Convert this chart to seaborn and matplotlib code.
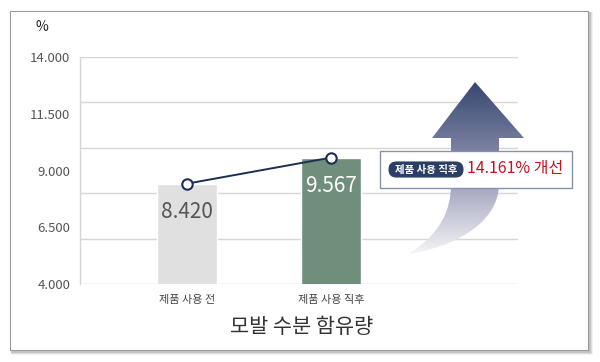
import numpy as np
import matplotlib
matplotlib.use("Agg")
import matplotlib.pyplot as plt
import seaborn as sns
import pandas as pd
from matplotlib.patches import Rectangle, FancyBboxPatch, PathPatch
from matplotlib.path import Path

categories = ["제품 사용 전", "제품 사용 직후"]
values = [8420, 9567]
value_labels = ["8.420", "9.567"]
ytick_values = [4000, 6500, 9000, 11500, 14000]
ytick_labels = ["4.000", "6.500", "9.000", "11.500", "14.000"]
grid_values = [4000, 6000, 8000, 10000, 12000, 14000]
unit_label = "%"
title = "모발 수분 함유량"
badge_text = "제품 사용 직후"
improve_text = "14.161% 개선"

sns.set_theme(style="white")
plt.rcParams['font.family'] = ['Noto Sans CJK KR', 'DejaVu Sans']

W, H = 600, 362
fig = plt.figure(figsize=(6, 3.62), dpi=100)
fig.patch.set_facecolor("white")

# background card axes (pixel coords)
bg = fig.add_axes([0, 0, 1, 1], zorder=-1)
bg.set_xlim(0, W); bg.set_ylim(H, 0); bg.axis("off")
for i, a in enumerate([0.05, 0.08, 0.12, 0.18]):
    off = 4 - i
    bg.add_patch(Rectangle((10 + off * 0.3, 11 + off * 0.3), 578 + off, 339 + off,
                           facecolor="#000000", alpha=a, edgecolor="none"))
bg.add_patch(Rectangle((10, 11), 578, 339, facecolor="white", edgecolor="#9a9a9a", lw=0.8))

# main axes
ax = fig.add_axes([80 / W, 1 - 284 / H, 438 / W, 227 / H], zorder=0)
ax.patch.set_alpha(0)
df = pd.DataFrame({"cat": categories, "val": values})
sns.barplot(data=df, x="cat", y="val", hue="cat", palette=["#e0e0e0", "#6f8f7c"],
            width=0.42, ax=ax, legend=False, saturation=1)
ax.set_xlim(-0.743, 2.30)
ax.set_ylim(4000, 14000)
for g in grid_values:
    ax.axhline(g, color="#d6d6d6", lw=1.0, zorder=0)
ax.set_yticks(ytick_values)
ax.set_yticklabels(ytick_labels, fontsize=9.5, color="#555555")
ax.tick_params(axis="y", length=0, pad=7)
ax.tick_params(axis="x", length=0, pad=8)
ax.set_xticks(range(len(categories)))
ax.set_xticklabels(categories, fontsize=8, color="#444444")
ax.set_xlabel(""); ax.set_ylabel("")
for s in ["top", "right", "bottom"]:
    ax.spines[s].set_visible(False)
ax.spines["left"].set_color("#d6d6d6")
ax.spines["left"].set_linewidth(1.0)

ax.plot(range(len(values)), values, color="#1c2e52", lw=1.4, marker="o",
        markersize=7.5, markerfacecolor="white", markeredgecolor="#1c2e52",
        markeredgewidth=1.5, zorder=5)

txt_colors = ["#555555", "white"]
for i, (v, lab) in enumerate(zip(values, value_labels)):
    ax.text(i, v - 1250, lab, ha="center", va="center", fontsize=15,
            color=txt_colors[i], zorder=6)

# overlay axes (pixel coords)
ov = fig.add_axes([0, 0, 1, 1], zorder=2)
ov.set_xlim(0, W); ov.set_ylim(H, 0); ov.axis("off")
ov.patch.set_alpha(0)

ov.text(42, 27, unit_label, fontsize=10, color="#222222", ha="center", va="center")
ov.text(302, 327, title, fontsize=15, color="#333333", ha="center", va="center")

# gradient arrow
verts = [(475, 82), (524, 138), (499, 138), (499, 185),
         (498, 225), (450, 248), (408, 254),
         (440, 235), (451, 210), (451, 185),
         (451, 138), (432, 138), (475, 82)]
codes = [Path.MOVETO, Path.LINETO, Path.LINETO, Path.LINETO,
         Path.CURVE4, Path.CURVE4, Path.CURVE4,
         Path.CURVE4, Path.CURVE4, Path.CURVE4,
         Path.LINETO, Path.LINETO, Path.CLOSEPOLY]
arrow_path = Path(verts, codes)
patch = PathPatch(arrow_path, facecolor="none", edgecolor="none")
ov.add_patch(patch)
top = np.array(matplotlib.colors.to_rgb("#34466e"))
mid = np.array(matplotlib.colors.to_rgb("#8f91b0"))
bot = np.array(matplotlib.colors.to_rgb("#f6f6f8"))
t = np.linspace(0, 1, 200)[:, None]
grad = np.where(t < 0.5, top + (mid - top) * (t / 0.5), mid + (bot - mid) * ((t - 0.5) / 0.5))
img = ov.imshow(grad[:, None, :], extent=(400, 530, 256, 80), aspect="auto",
                interpolation="bilinear", zorder=3)
img.set_clip_path(patch)
ov.set_xlim(0, W); ov.set_ylim(H, 0)

# annotation box
ov.add_patch(Rectangle((380, 151), 192, 37, facecolor="white", edgecolor="#8592a8",
                       lw=1.0, zorder=4))
ov.add_patch(FancyBboxPatch((389, 162), 74, 15, boxstyle="round,pad=0,rounding_size=7.5",
                            facecolor="#2b3f66", edgecolor="#2b3f66", lw=0.8, zorder=5))
ov.text(426, 169.5, badge_text, fontsize=7.5, color="white", ha="center", va="center",
        fontweight="bold", zorder=6)
ov.text(515, 169, improve_text, fontsize=11.5, color="#c2131f", ha="center", va="center",
        zorder=6)

fig.savefig("out.png", dpi=100)
